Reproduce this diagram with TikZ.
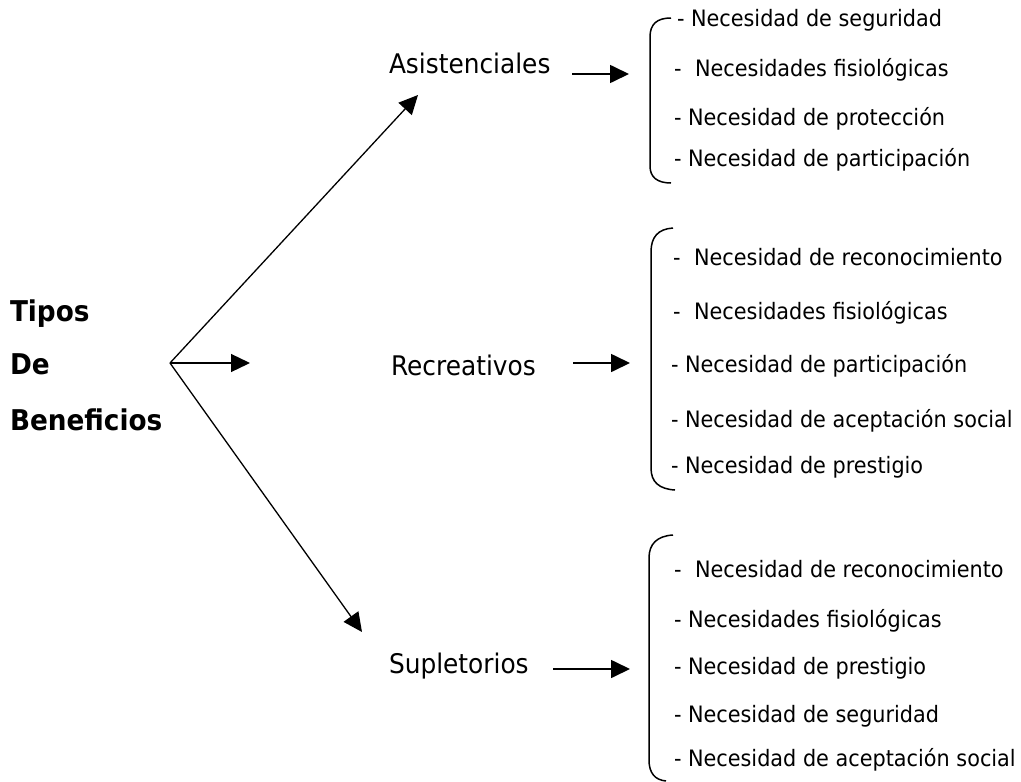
\documentclass[tikz,border=0pt]{standalone}
\usepackage{fontspec}
\setmainfont[FakeStretch=0.92]{DejaVu Sans}
\usetikzlibrary{arrows.meta}
% extra space after the dash in some list entries
\newcommand{\wg}{\hspace{7pt}}
\begin{document}
\begin{tikzpicture}[x=1pt,y=-1pt,
  txt/.style={anchor=base west,inner sep=0pt,outer sep=0pt},
  need/.style={txt,font=\fontsize{22.6}{27}\selectfont},
  kind/.style={txt,font=\fontsize{27}{32}\selectfont},
  title/.style={txt,font=\fontsize{28.6}{33}\selectfont\bfseries},
  arr/.style={line width=1.7pt,-{Triangle[length=19pt,width=18pt]}},
  ray/.style={line width=1.3pt,-{Triangle[length=19pt,width=18pt]}},
  brace/.style={line width=1.5pt}]
\useasboundingbox (0,0) rectangle (1021,782);

% title on the left
\node[title] (t1) at (10,321) {Tipos};
\node[title] (t2) at (10,374) {De};
\node[title] (t3) at (10,430) {Beneficios};

% the three kinds
\node[kind] (asis) at (389,73) {Asistenciales};
\node[kind] (recr) at (391,375) {Recreativos};
\node[kind] (supl) at (389,673) {Supletorios};

% rays leaving the common point
\coordinate (apex) at (170,363);
\coordinate (upTip) at (418,95);
\coordinate (midTip) at (250,363);
\coordinate (lowTip) at (362,632);
\draw[ray] (apex) -- (upTip);
\draw[ray] (apex) -- (midTip);
\draw[ray] (apex) -- (lowTip);

% arrows from each kind towards its list
\coordinate (s1) at (572,74);   \coordinate (e1) at (629,74);
\coordinate (s2) at (573,363);  \coordinate (e2) at (630,363);
\coordinate (s3) at (553,669);  \coordinate (e3) at (630,669);
\draw[arr] (s1) -- (e1);
\draw[arr] (s2) -- (e2);
\draw[arr] (s3) -- (e3);

% brackets
\draw[brace] (671,18) .. controls (657,18) and (650,24) .. (650,37) -- (650,166)
  .. controls (650,177) and (657,183) .. (671,183);
\draw[brace] (673,228) .. controls (658,229) and (651,237) .. (651,252) -- (651,468)
  .. controls (651,482) and (659,489) .. (675,490);
\draw[brace] (673,535) .. controls (657,536) and (649,544) .. (649,558) -- (649,760)
  .. controls (649,773) and (655,780) .. (666,781);

% needs: first group
\node[need] (n11) at (677,26)  {- Necesidad de seguridad};
\node[need] (n12) at (674,76)  {-\wg{} Necesidades fisiológicas};
\node[need] (n13) at (674,125) {- Necesidad de protección};
\node[need] (n14) at (674,166) {- Necesidad de participación};

% needs: second group
\node[need] (n21) at (673,265) {-\wg{} Necesidad de reconocimiento};
\node[need] (n22) at (673,319) {-\wg{} Necesidades fisiológicas};
\node[need] (n23) at (671,372) {- Necesidad de participación};
\node[need] (n24) at (671,427) {- Necesidad de aceptación social};
\node[need] (n25) at (671,473) {- Necesidad de prestigio};

% needs: third group
\node[need] (n31) at (674,577) {-\wg{} Necesidad de reconocimiento};
\node[need] (n32) at (674,627) {- Necesidades fisiológicas};
\node[need] (n33) at (674,674) {- Necesidad de prestigio};
\node[need] (n34) at (674,722) {- Necesidad de seguridad};
\node[need] (n35) at (674,766) {- Necesidad de aceptación social};
\end{tikzpicture}
\end{document}
